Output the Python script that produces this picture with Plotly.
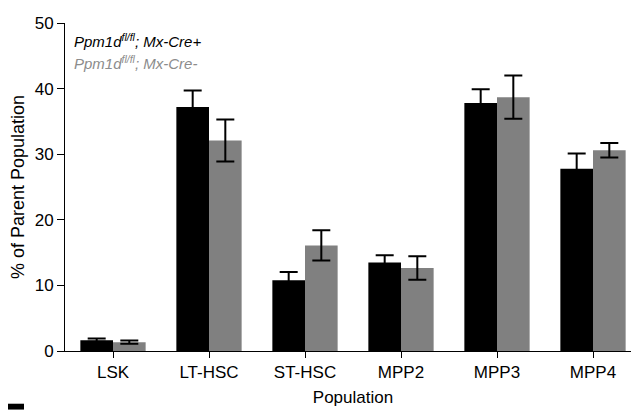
import plotly.graph_objects as go

categories = ["LSK", "LT-HSC", "ST-HSC", "MPP2", "MPP3", "MPP4"]
cre_pos = [1.65, 37.2, 10.8, 13.5, 37.8, 27.8]
cre_pos_err = [0.25, 2.5, 1.25, 1.1, 2.1, 2.3]
cre_neg = [1.35, 32.1, 16.1, 12.65, 38.7, 30.6]
cre_neg_err = [0.25, 3.2, 2.3, 1.8, 3.3, 1.1]
y_ticks = [0, 10, 20, 30, 40, 50]

font = "Liberation Sans, Arial, sans-serif"

# page body has an 8px margin; compensate so the plot lands where the reference has it
OFF = 8
L, R, T, B = 65 - OFF, 6, 15 - OFF, 68
W, H = 639, 411
pw = W - L - R
ph = H - T - B


def px_x(x):
    return (x - OFF - L) / pw


def px_y(y):
    return 1 - (y - OFF - T) / ph


fig = go.Figure()
fig.add_trace(go.Bar(
    x=categories, y=cre_pos, name="Mx-Cre+",
    marker=dict(color="#000000", line=dict(width=0)),
    error_y=dict(type="data", array=cre_pos_err, color="#000000", thickness=2, width=9),
))
fig.add_trace(go.Bar(
    x=categories, y=cre_neg, name="Mx-Cre-",
    marker=dict(color="#808080", line=dict(width=0)),
    error_y=dict(type="data", array=cre_neg_err, color="#000000", thickness=2, width=9),
))

fig.update_layout(
    width=W, height=H,
    margin=dict(l=L, r=R, t=T, b=B, pad=0),
    paper_bgcolor="white", plot_bgcolor="white",
    barmode="group", bargap=0.32, bargroupgap=0,
    showlegend=False,
    font=dict(family=font, size=17, color="#000000"),
    xaxis=dict(
        range=[-0.5, 5.5], showline=True, linecolor="#000000", linewidth=1,
        ticks="outside", ticklen=6, tickcolor="#000000", tickwidth=1,
        ticklabelstandoff=0,
        showgrid=False, zeroline=False,
        title=dict(text="Population", font=dict(size=17), standoff=9),
        tickfont=dict(size=17),
    ),
    yaxis=dict(
        range=[0, 50], tickvals=y_ticks, showline=True, linecolor="#000000", linewidth=1,
        ticks="outside", ticklen=7, tickcolor="#000000", tickwidth=1,
        ticklabeloverflow="allow",
        showgrid=False, zeroline=False,
        title=dict(text="% of Parent Population", font=dict(size=18), standoff=5),
        tickfont=dict(size=17),
    ),
    annotations=[
        dict(text="<i>Ppm1d<sup>fl/fl</sup>; Mx-Cre+</i>", x=px_x(72), y=px_y(33),
             xref="paper", yref="paper",
             showarrow=False, xanchor="left", yanchor="middle",
             font=dict(size=15, color="#000000")),
        dict(text="<i>Ppm1d<sup>fl/fl</sup>; Mx-Cre-</i>", x=px_x(72), y=px_y(55),
             xref="paper", yref="paper",
             showarrow=False, xanchor="left", yanchor="middle",
             font=dict(size=15, color="#8c8c8c")),
    ],
    shapes=[
        dict(type="rect", xref="paper", yref="paper",
             x0=px_x(0), x1=px_x(24), y0=px_y(411), y1=px_y(405),
             fillcolor="#000000", line=dict(width=0), layer="above"),
    ],
)

fig.write_html("out.html")
